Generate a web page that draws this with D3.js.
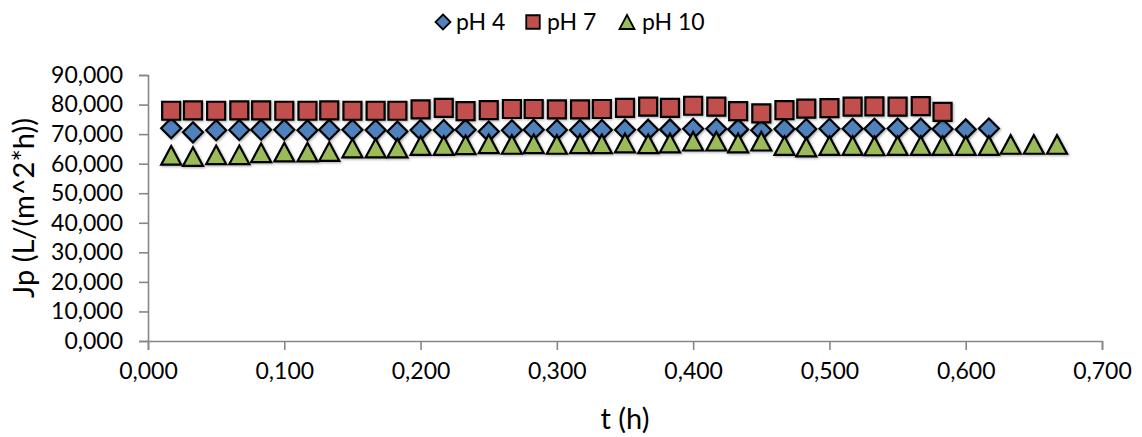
<!DOCTYPE html>
<html>
<head>
<meta charset="utf-8">
<script src="https://cdn.jsdelivr.net/npm/d3@7"></script>
<style>
  html, body { margin: 0; padding: 0; background: #ffffff; }
  svg { display: block; font-family: Lato, "Open Sans", sans-serif; }
</style>
</head>
<body>
<svg id="chart" width="1142" height="437"></svg>
<script>
// Permeate flux over time for three feed pH values
const seriesNames = ["pH 4", "pH 7", "pH 10"];

const timePH4 = [0.017,0.033,0.050,0.067,0.083,0.100,0.117,0.133,0.150,0.167,0.183,0.200,0.217,0.233,0.250,0.267,0.283,0.300,0.317,0.333,0.350,0.367,0.383,0.400,0.417,0.433,0.450,0.467,0.483,0.500,0.517,0.533,0.550,0.567,0.583,0.600,0.617];
const fluxPH4 = [72.0,70.6,71.3,71.4,71.5,71.5,71.3,71.5,71.5,71.4,70.9,71.4,71.4,71.5,70.9,71.3,71.5,71.4,71.4,71.4,71.5,71.5,71.6,71.8,71.8,71.6,71.3,71.7,71.7,71.8,71.8,71.8,71.9,71.9,71.7,71.6,71.9];

const timePH7 = [0.017,0.033,0.050,0.067,0.083,0.100,0.117,0.133,0.150,0.167,0.183,0.200,0.217,0.233,0.250,0.267,0.283,0.300,0.317,0.333,0.350,0.367,0.383,0.400,0.417,0.433,0.450,0.467,0.483,0.500,0.517,0.533,0.550,0.567,0.583];
const fluxPH7 = [77.9,78.0,77.9,78.0,78.0,77.9,77.9,78.0,77.9,77.9,77.9,78.4,78.9,77.8,78.1,78.5,78.5,78.4,78.4,78.5,78.9,79.3,78.9,79.6,79.3,77.8,77.0,78.1,78.6,78.8,79.3,79.4,79.3,79.5,77.5];

const timePH10 = [0.017,0.033,0.050,0.067,0.083,0.100,0.117,0.133,0.150,0.167,0.183,0.200,0.217,0.233,0.250,0.267,0.283,0.300,0.317,0.333,0.350,0.367,0.383,0.400,0.417,0.433,0.450,0.467,0.483,0.500,0.517,0.533,0.550,0.567,0.583,0.600,0.617,0.633,0.650,0.667];
const fluxPH10 = [62.8,62.4,63.0,63.0,63.7,63.9,63.9,64.1,65.3,65.3,65.3,66.1,66.1,66.4,66.7,66.5,66.7,66.5,66.7,66.7,67.0,66.7,67.0,67.6,67.6,67.0,67.6,66.1,65.6,66.1,66.1,66.0,66.1,66.1,66.1,66.1,66.1,66.5,66.5,66.5];

const xTicks = [0, 0.1, 0.2, 0.3, 0.4, 0.5, 0.6, 0.7];
const yTicks = [0, 10, 20, 30, 40, 50, 60, 70, 80, 90];

const xTitle = "t (h)";
const yTitle = "Jp (L/(m^2*h))";

const colors = ["#4F81BD", "#C0504D", "#9BBB59"];
const shapes = ["diamond", "square", "triangle"];

// Comma as decimal separator, three decimals on both axes
const locale = d3.formatLocale({ decimal: ",", thousands: ".", grouping: [3], currency: ["", ""] });
const fmt = locale.format(".3f");

const svg = d3.select("#chart");
const plot = { left: 148, right: 1102, top: 75, bottom: 341 };

const x = d3.scaleLinear().domain([0, 0.7]).range([plot.left, plot.right]);
const y = d3.scaleLinear().domain([0, 90]).range([plot.bottom, plot.top]);

const axisColor = "#868686";
const tickFont = 23;

// Marker outlines centred on their bounding box
function markerPath(shape, s) {
  const h = s / 2;
  const p = d3.path();
  if (shape === "diamond") {
    p.moveTo(0, -h); p.lineTo(h, 0); p.lineTo(0, h); p.lineTo(-h, 0); p.closePath();
  } else if (shape === "square") {
    const q = h * 0.9;
    p.moveTo(-q, -q); p.lineTo(q, -q); p.lineTo(q, q); p.lineTo(-q, q); p.closePath();
  } else {
    const hh = h * 0.93;
    p.moveTo(0, -hh); p.lineTo(h, hh); p.lineTo(-h, hh); p.closePath();
  }
  return p.toString();
}

// Soft marker shadow
const defs = svg.append("defs");
const f = defs.append("filter").attr("id", "shadow").attr("x", "-30%").attr("y", "-30%").attr("width", "160%").attr("height", "160%");
f.append("feDropShadow").attr("dx", 1.2).attr("dy", 1.2).attr("stdDeviation", 0.8)
  .attr("flood-color", "#000").attr("flood-opacity", 0.3);

// Y axis
const yAxis = d3.axisLeft(y).tickValues(yTicks).tickFormat(fmt).tickSize(9).tickPadding(16);
const gy = svg.append("g").attr("transform", `translate(${plot.left},0)`).call(yAxis);
gy.select(".domain").attr("stroke", axisColor).attr("stroke-width", 1.6);
gy.selectAll(".tick line").attr("stroke", axisColor).attr("stroke-width", 1.6);
gy.selectAll(".tick text").attr("fill", "#000").attr("font-size", tickFont).attr("font-family", "Lato, sans-serif");

// X axis
const xAxis = d3.axisBottom(x).tickValues(xTicks).tickFormat(fmt).tickSize(9).tickPadding(13);
const gx = svg.append("g").attr("transform", `translate(0,${plot.bottom})`).call(xAxis);
gx.select(".domain").attr("stroke", axisColor).attr("stroke-width", 1.6);
gx.selectAll(".tick line").attr("stroke", axisColor).attr("stroke-width", 1.6);
gx.selectAll(".tick text").attr("fill", "#000").attr("font-size", tickFont).attr("font-family", "Lato, sans-serif");

// Axis titles
svg.append("text")
  .attr("x", (plot.left + plot.right) / 2).attr("y", 429)
  .attr("text-anchor", "middle").attr("font-size", 29).attr("fill", "#000")
  .text(xTitle);

svg.append("text")
  .attr("transform", `translate(34,${(plot.top + plot.bottom) / 2}) rotate(-90)`)
  .attr("text-anchor", "middle").attr("font-size", 29).attr("fill", "#000")
  .text(yTitle);

// Data markers
const series = [
  { t: timePH4, v: fluxPH4 },
  { t: timePH7, v: fluxPH7 },
  { t: timePH10, v: fluxPH10 }
];

series.forEach((s, i) => {
  const pts = s.t.map((t, k) => ({ t, v: s.v[k] }));
  svg.append("g").attr("class", "series")
    .selectAll("path").data(pts).join("path")
    .attr("d", markerPath(shapes[i], 20))
    .attr("transform", d => `translate(${x(d.t)},${y(d.v)})`)
    .attr("fill", colors[i])
    .attr("stroke", "#000")
    .attr("stroke-width", 2.2)
    .attr("stroke-linejoin", "miter")
    .attr("filter", "url(#shadow)");
});

// Legend
const legendItems = [
  { mx: 443, tx: 456 },
  { mx: 533, tx: 547 },
  { mx: 627, tx: 642 }
];
const legend = svg.append("g");
seriesNames.forEach((name, i) => {
  legend.append("path")
    .attr("d", markerPath(shapes[i], 15))
    .attr("transform", `translate(${legendItems[i].mx},22)`)
    .attr("fill", colors[i]).attr("stroke", "#000").attr("stroke-width", 1.8);
  legend.append("text")
    .attr("x", legendItems[i].tx).attr("y", 30)
    .attr("font-size", 23).attr("fill", "#000")
    .text(name);
});
</script>
</body>
</html>
